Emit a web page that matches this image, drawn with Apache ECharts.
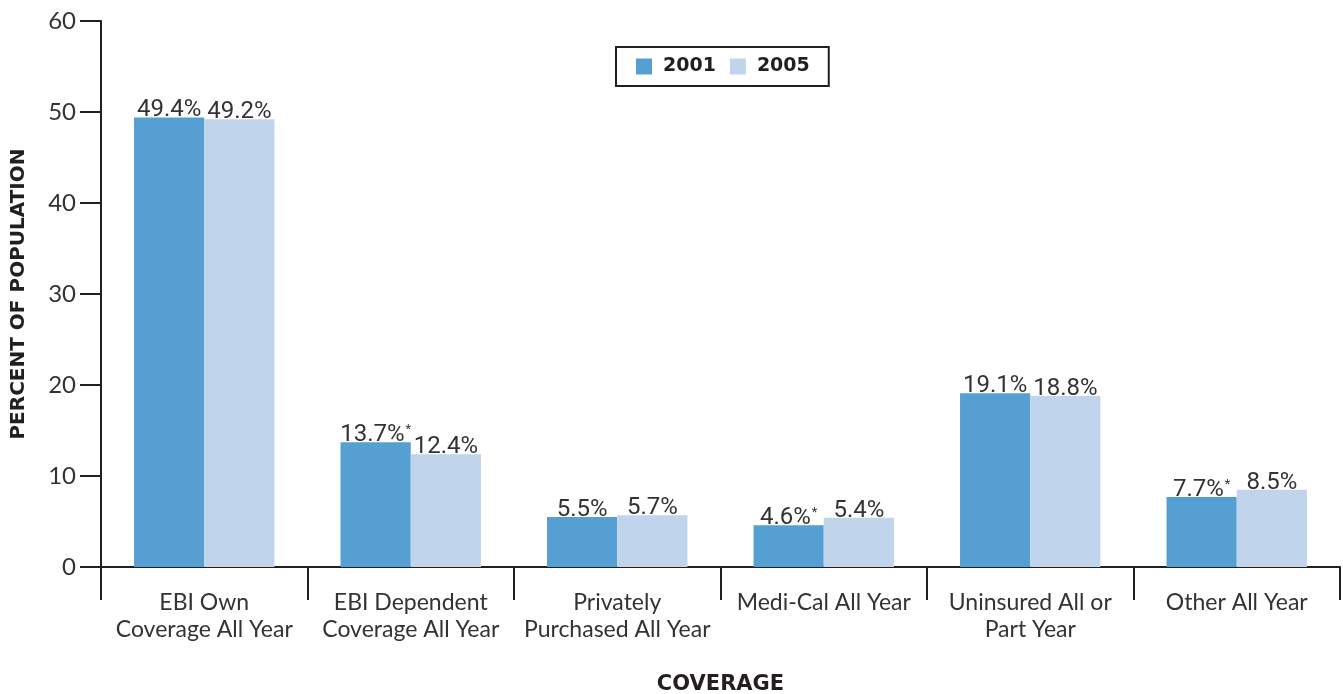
<!DOCTYPE html>
<html>
<head>
<meta charset="utf-8">
<script src="https://cdn.jsdelivr.net/npm/echarts@6/dist/echarts.min.js"></script>
<style>
  html, body { margin: 0; padding: 0; background: #fff; }
  #chart { width: 1343px; height: 694px; }
</style>
</head>
<body>
<div id="chart"></div>
<script>
// Health coverage categories and shares by year
const categories = [
  'EBI Own\nCoverage All Year',
  'EBI Dependent\nCoverage All Year',
  'Privately\nPurchased All Year',
  'Medi-Cal All Year',
  'Uninsured All or\nPart Year',
  'Other All Year'
];
const values2001 = [49.4, 13.7, 5.5, 4.6, 19.1, 7.7];
const values2005 = [49.2, 12.4, 5.7, 5.4, 18.8, 8.5];
// Asterisk marks on 2001 values (significant change)
const flagged2001 = [false, true, false, true, false, true];
const yTicks = [0, 10, 20, 30, 40, 50, 60];

const ink = '#231f20';
const labelFont = 'Lato, "Noto Sans", sans-serif';
const titleFont = '"DejaVu Sans", Lato, sans-serif';
const numFont = 'Roboto, "Noto Sans", sans-serif';

const chart = echarts.init(document.getElementById('chart'), null, { renderer: 'canvas' });

function barLabel(flags) {
  return {
    show: true,
    position: 'top',
    distance: -5,
    formatter: p => {
      const txt = p.value.toFixed(1) + '%';
      return flags && flags[p.dataIndex] ? '{v|' + txt + '}{s|*}' : '{v|' + txt + '}';
    },
    rich: {
      v: { fontFamily: numFont, fontSize: 24, color: '#333' },
      s: { fontFamily: numFont, fontSize: 13, color: '#333', verticalAlign: 'top', padding: [0, 0, 10, 1] }
    }
  };
}

chart.setOption({
  animation: false,
  backgroundColor: '#fff',
  grid: { left: 101, right: 3, top: 21, bottom: 127, containLabel: false, outerBoundsMode: 'none' },
  legend: {
    data: ['2001', '2005'],
    top: 47,
    left: 616,
    itemWidth: 16,
    itemHeight: 16,
    itemGap: 14,
    padding: [10, 19, 10, 20],
    borderColor: ink,
    borderWidth: 2,
    icon: 'rect',
    textStyle: { fontFamily: titleFont, fontWeight: 'bold', fontSize: 19, color: ink, padding: [0, 0, 0, 6] }
  },
  xAxis: {
    type: 'category',
    data: categories,
    name: 'COVERAGE',
    nameLocation: 'middle',
    nameGap: 107,
    nameTextStyle: { fontFamily: titleFont, fontWeight: 'bold', fontSize: 21, color: ink },
    axisLine: { lineStyle: { color: ink, width: 2 } },
    axisTick: { show: true, length: 33, lineStyle: { color: ink, width: 2 } },
    axisLabel: {
      fontFamily: labelFont, fontSize: 23, color: '#333', lineHeight: 27, margin: 22, interval: 0
    }
  },
  yAxis: {
    type: 'value',
    min: yTicks[0],
    max: yTicks[yTicks.length - 1],
    interval: 10,
    name: 'PERCENT OF POPULATION',
    nameLocation: 'middle',
    nameGap: 72,
    nameRotate: 90,
    nameTextStyle: { fontFamily: titleFont, fontWeight: 'bold', fontSize: 20, color: ink },
    splitLine: { show: false },
    axisLine: { show: true, lineStyle: { color: ink, width: 2 } },
    axisTick: { show: true, length: 21, lineStyle: { color: ink, width: 2 } },
    axisLabel: { fontFamily: labelFont, fontSize: 24, color: '#333', margin: 25 }
  },
  series: [
    {
      name: '2001',
      type: 'bar',
      data: values2001,
      barGap: '0%',
      barCategoryGap: '32%',
      itemStyle: { color: '#559fd3' },
      label: barLabel(flagged2001)
    },
    {
      name: '2005',
      type: 'bar',
      data: values2005,
      itemStyle: { color: '#c0d5ec' },
      label: barLabel(null)
    }
  ]
});
</script>
</body>
</html>
